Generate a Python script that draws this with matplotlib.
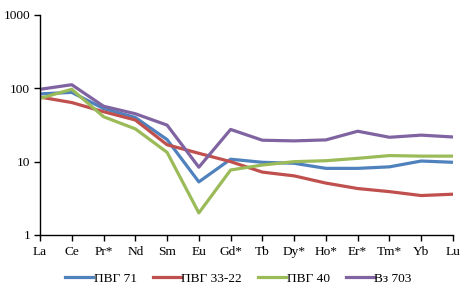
import matplotlib
matplotlib.use("Agg")
import matplotlib.pyplot as plt
from matplotlib.ticker import FixedLocator, FixedFormatter

elements = ["La", "Ce", "Pr*", "Nd", "Sm", "Eu", "Gd*", "Tb", "Dy*", "Ho*", "Er*", "Tm*", "Yb", "Lu"]

pvg71 = [84, 88, 53, 40, 20, 5.3, 10.8, 9.8, 9.5, 8.1, 8.1, 8.5, 10.2, 9.8]
pvg33_22 = [76, 64, 48, 37, 17, 13, 10.0, 7.2, 6.4, 5.1, 4.3, 3.9, 3.45, 3.6]
pvg40 = [73, 97, 41, 28, 13.4, 2.0, 7.7, 9.0, 10.0, 10.3, 11.1, 12.1, 11.9, 11.9]
vz703 = [97, 112, 57, 45, 31.5, 8.4, 27.5, 19.6, 19.2, 19.8, 26, 21.5, 23, 21.7]

series = [("ПВГ 71", pvg71, "#4F81BD"),
          ("ПВГ 33-22", pvg33_22, "#C0504D"),
          ("ПВГ 40", pvg40, "#9BBB59"),
          ("Вз 703", vz703, "#8064A2")]

plt.rcParams['font.family'] = ['Liberation Serif', 'DejaVu Serif']

fig = plt.figure(figsize=(4.69, 2.97), dpi=100)
ax = fig.add_axes([0.0853, 0.2088, 0.8806, 0.7407])

x = list(range(len(elements)))
for name, vals, col in series:
    ax.plot(x, vals, color=col, lw=2.3, label=name, solid_joinstyle='round')

ax.set_yscale('log')
ax.set_ylim(1, 1000)
ax.set_xlim(0, len(elements) - 1)
ax.yaxis.set_major_locator(FixedLocator([1, 10, 100, 1000]))
ax.yaxis.set_major_formatter(FixedFormatter(["1", "10", "100", "1000"]))
ax.yaxis.set_minor_locator(FixedLocator([]))
ax.set_xticks(x)
ax.set_xticklabels(elements)

for s in ["top", "right"]:
    ax.spines[s].set_visible(False)
for s in ["left", "bottom"]:
    ax.spines[s].set_color("#000000")
    ax.spines[s].set_linewidth(1.0)
ax.tick_params(axis='both', direction='out', length=4, width=1, labelsize=9.6, colors='#000000')
ax.tick_params(axis='x', pad=4)
ax.tick_params(axis='y', pad=3)

fig.legend(loc='lower center', bbox_to_anchor=(0.508, 0.0), ncol=4, frameon=False,
           fontsize=9.6, handlelength=2.1, columnspacing=1.2, handletextpad=0.05)

fig.savefig("out.png", dpi=100)
